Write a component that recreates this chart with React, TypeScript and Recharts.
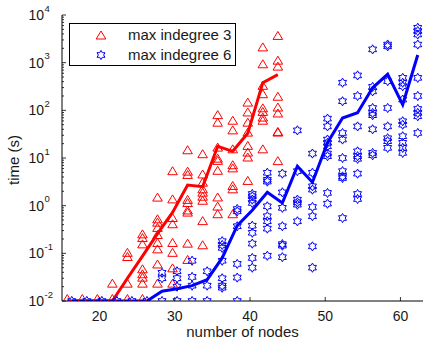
import React from 'react';
import { ComposedChart, Scatter, Line, XAxis, YAxis, Legend } from 'recharts';

const FONT = '"Liberation Sans", Arial, Helvetica, sans-serif';
const RED = '#ff0000';
const BLUE = '#0000ff';

// max indegree 3 (red triangles), plotted slightly left of the node count
const nodes3 = [16, 18, 20, 22, 24, 26, 28, 30, 32, 34, 36, 38, 40, 42, 44];
const times3 = [
  [0.01],
  [0.01],
  [0.01],
  [0.021, 0.01],
  [0.093, 0.076, 0.021, 0.01],
  [0.227, 0.19, 0.14, 0.042, 0.033, 0.028, 0.021, 0.01],
  [1.34, 0.47, 0.4, 0.31, 0.22, 0.15, 0.11, 0.053, 0.021],
  [4.8, 1.23, 0.5, 0.37, 0.15, 0.093, 0.044, 0.021],
  [13.2, 4.7, 4.0, 1.2, 1.03, 0.72, 0.65, 0.145, 0.066],
  [10.9, 4.1, 2.76, 2.0, 1.7, 1.4, 1.15, 0.43, 0.134],
  [72, 50, 15, 8.8, 7.9, 4.9, 1.35, 0.87, 0.6],
  [55, 34.5, 13.8, 6.4, 5.5, 2.35, 2.0, 0.6],
  [132, 82, 50, 31, 16.3, 11.8, 9.3, 3.0],
  [1900, 840, 297, 198, 100, 84, 64, 55, 13.8],
  [3300, 1000, 750, 175, 104, 78, 32, 31, 7.8],
];
const median3 = [0.01, 0.01, 0.01, 0.01, 0.03, 0.087, 0.26, 0.72, 2.7, 2.5, 17.6, 13.8, 33, 380, 560];

// max indegree 6 (blue hexagrams), plotted slightly right of the node count
const nodes6 = [16, 18, 20, 22, 24, 26, 28, 30, 32, 34, 36, 38, 40, 42, 44, 46, 48, 50, 52, 54, 56, 58, 60, 62];
const times6 = [
  [0.01],
  [0.01],
  [0.01],
  [0.01],
  [0.01],
  [0.01],
  [0.039, 0.03, 0.01],
  [0.042, 0.03, 0.02, 0.01],
  [0.07, 0.032, 0.021, 0.01],
  [0.042, 0.021, 0.01],
  [0.18, 0.15, 0.13, 0.07, 0.03, 0.021, 0.019],
  [0.85, 0.76, 0.37, 0.06, 0.031, 0.01],
  [1.76, 1.57, 1.34, 1.14, 0.38, 0.27, 0.16, 0.08, 0.05],
  [4.9, 3.5, 3.2, 0.97, 0.6, 0.47, 0.33, 0.089],
  [4.7, 1.9, 0.9, 0.37, 0.156, 0.145, 0.083],
  [38, 5.3, 1.34, 1.17, 1.05, 0.47],
  [12.4, 4.9, 2.55, 2.17, 0.94, 0.6, 0.14, 0.05],
  [67, 46, 24.4, 20.8, 17.6, 12.4, 10.9, 1.85, 1.1],
  [380, 155, 33.5, 24.4, 10, 5.3, 4.1, 3.8, 0.55],
  [540, 200, 46, 13.8, 10.9, 9.6, 4.7, 1.76, 1.38],
  [1900, 310, 250, 112, 88, 79, 40, 12.8, 11.4],
  [2400, 2200, 410, 112, 46, 26, 22.5, 16.3],
  [480, 380, 320, 168, 59, 50, 28.6, 20.8, 16.3, 12.8],
  [5400, 4600, 3900, 2400, 480, 200, 107, 88, 75, 33.5],
];
const median6 = [
  0.01, 0.01, 0.01, 0.01, 0.01, 0.01, 0.016, 0.018, 0.021, 0.028, 0.08, 0.38,
  0.8, 1.9, 1.14, 6.7, 3.1, 21, 69, 89, 297, 570, 132, 1450,
];

const xTicks = [20, 30, 40, 50, 60];
const decades = [-2, -1, 0, 1, 2, 3, 4];
const seriesNames = ['max indegree 3', 'max indegree 6'];

const yTicks: number[] = [];
decades.forEach((e) => {
  const top = e === 4 ? 1 : 9;
  for (let m = 1; m <= top; m++) yTicks.push(Number((m * Math.pow(10, e)).toPrecision(6)));
});

const shift3 = -0.3;
const shift6 = 0.3;
const scatter3 = nodes3.flatMap((n, i) => times3[i].map((t) => ({ x: n + shift3, y: t })));
const scatter6 = nodes6.flatMap((n, i) => times6[i].map((t) => ({ x: n + shift6, y: t })));
const line3 = nodes3.map((n, i) => ({ x: n + shift3, y: median3[i] }));
const line6 = nodes6.map((n, i) => ({ x: n + shift6, y: median6[i] }));

function Triangle({ cx, cy }: { cx: number; cy: number }) {
  return (
    <polygon
      points={`${cx},${cy - 6.5} ${cx - 4.8},${cy + 1.5} ${cx + 4.8},${cy + 1.5}`}
      fill="none"
      stroke={RED}
      strokeWidth={1}
    />
  );
}

function Hexagram({ cx, cy }: { cx: number; cy: number }) {
  const pts: string[] = [];
  const ro = 4.6;
  const ri = ro / Math.sqrt(3);
  for (let k = 0; k < 12; k++) {
    const r = k % 2 === 0 ? ro : ri;
    const a = ((-90 + k * 30) * Math.PI) / 180;
    pts.push(`${cx + r * Math.cos(a)},${cy + r * Math.sin(a)}`);
  }
  return <polygon points={pts.join(' ')} fill="none" stroke={BLUE} strokeWidth={1} />;
}

const YTick = (props: any) => {
  const { x, y, payload } = props;
  const lg = Math.log10(payload.value);
  const e = Math.round(lg);
  const major = Math.abs(lg - e) < 1e-6;
  const axisX = x + 18;
  return (
    <g>
      <line x1={axisX} x2={axisX + (major ? 4 : 2)} y1={y} y2={y} stroke="#000" strokeWidth={0.8} />
      {major && (
        <>
          <text x={x} y={y + 5} textAnchor="end" fontSize={14} fontFamily={FONT} fill="#1a1a1a">
            10
          </text>
          <text x={x + 0.5} y={y - 3.5} textAnchor="start" fontSize={9.5} fontFamily={FONT} fill="#1a1a1a">
            {e < 0 ? `-${-e}` : `${e}`}
          </text>
        </>
      )}
    </g>
  );
};

const XTick = (props: any) => {
  const { x, y, payload } = props;
  const axisY = y - 8;
  return (
    <g>
      <line x1={x} x2={x} y1={axisY} y2={axisY - 4} stroke="#000" strokeWidth={0.8} />
      <text x={x} y={y + 12} textAnchor="middle" fontSize={14} fontFamily={FONT} fill="#1a1a1a">
        {payload.value}
      </text>
    </g>
  );
};

const YLabel = (props: any) => {
  const { viewBox } = props;
  const cx = viewBox.x + 19;
  const cy = viewBox.y + viewBox.height / 2 + 2;
  return (
    <text
      x={cx}
      y={cy}
      transform={`rotate(-90, ${cx}, ${cy})`}
      textAnchor="middle"
      fontSize={15}
      fontFamily={FONT}
      fill="#1a1a1a"
    >
      time (s)
    </text>
  );
};

const LegendBox = () => (
  <div
    style={{
      width: 165,
      height: 40,
      border: '1px solid #000',
      background: '#fff',
      fontFamily: FONT,
      fontSize: 15,
      color: '#1a1a1a',
      paddingTop: 1,
      boxSizing: 'content-box',
    }}
  >
    {seriesNames.map((name, i) => (
      <div key={name} style={{ display: 'flex', alignItems: 'center', height: 20 }}>
        <svg width={58} height={20} style={{ flex: 'none' }}>
          {i === 0 ? <Triangle cx={31} cy={12.5} /> : <Hexagram cx={31} cy={10} />}
        </svg>
        <span style={{ lineHeight: '20px' }}>{name}</span>
      </div>
    ))}
  </div>
);

export default function App() {
  return (
    <div style={{ width: 423, height: 341, background: '#fff' }}>
      <style>{'body{margin:0}'}</style>
      <ComposedChart width={423} height={341} margin={{ top: 15, right: 0, bottom: 0, left: 0 }}>
        <XAxis
          type="number"
          dataKey="x"
          domain={[15, 63]}
          ticks={xTicks}
          interval={0}
          allowDataOverflow
          height={40}
          tickSize={0}
          tickMargin={8}
          tick={<XTick />}
          axisLine={{ stroke: '#000', strokeWidth: 1 }}
          label={{ value: 'number of nodes', position: 'insideBottom', offset: 4, fontSize: 15, fontFamily: FONT, fill: '#1a1a1a' }}
        />
        <YAxis
          type="number"
          dataKey="y"
          scale="log"
          domain={[0.01, 10000]}
          ticks={yTicks}
          interval={0}
          allowDataOverflow
          width={62}
          tickSize={0}
          tickMargin={18}
          tick={<YTick />}
          axisLine={{ stroke: '#000', strokeWidth: 1 }}
          label={<YLabel />}
        />
        <Scatter
          name="max indegree 3"
          data={scatter3}
          isAnimationActive={false}
          shape={(p: any) => <Triangle cx={p.cx} cy={p.cy} />}
        />
        <Scatter
          name="max indegree 6"
          data={scatter6}
          isAnimationActive={false}
          shape={(p: any) => <Hexagram cx={p.cx} cy={p.cy} />}
        />
        <Line data={line3} dataKey="y" type="linear" stroke={RED} strokeWidth={3} dot={false} isAnimationActive={false} legendType="none" />
        <Line data={line6} dataKey="y" type="linear" stroke={BLUE} strokeWidth={3} dot={false} isAnimationActive={false} legendType="none" />
        <Legend
          layout="vertical"
          verticalAlign="middle"
          align="center"
          content={<LegendBox />}
          wrapperStyle={{ top: 23, left: 69, width: 'auto' }}
        />
      </ComposedChart>
    </div>
  );
}
